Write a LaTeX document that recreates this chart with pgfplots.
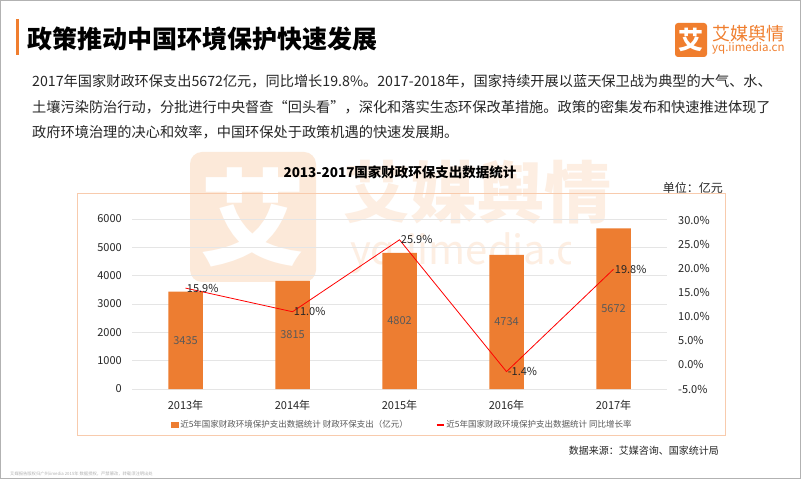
\documentclass[border=0pt]{standalone}
\usepackage{pgfplots}
\pgfplotsset{compat=1.18}
\usepackage{fontspec}
\setmainfont{Noto Sans CJK SC}
\definecolor{barorange}{HTML}{ED7D31}
\definecolor{logoorange}{HTML}{F07E2E}
\definecolor{wm}{HTML}{FCE9D9}
\definecolor{wmtext}{HTML}{FDEEE2}
\definecolor{framec}{HTML}{F8CBAD}
\definecolor{txtgray}{HTML}{595959}
\definecolor{bodytxt}{HTML}{262626}
\newcommand{\fs}[1]{\fontsize{#1}{#1}\selectfont}
\begin{document}
\begin{tikzpicture}[x=1pt,y=1pt]
\useasboundingbox (0,0) rectangle (802,479);
\fill[white] (0,0) rectangle (802,479);
\draw[gray!60, line width=1pt] (0.5,0.5) rectangle (800,478.5);
% header
\fill[logoorange] (16,460) rectangle (19,424);
\node[anchor=west, inner sep=0pt, font=\fs{25}\bfseries] at (27,440) {政策推动中国环境保护快速发展};
% logo
\fill[logoorange, rounded corners=3pt] (675,456) rectangle (707,422);
\node[inner sep=0pt, text=white, font=\fs{25}\bfseries] at (691,439) {艾};
\node[anchor=west, inner sep=0pt, text=logoorange, font=\fs{18}] at (712,445.5) {艾媒舆情};
\node[anchor=west, inner sep=0pt, text=logoorange, font=\fs{11.5}] at (712,431) {yq.iimedia.cn};
% body text
\node[anchor=west, inner sep=0pt, text=bodytxt, font=\fs{14.2}] at (32,398) {2017年国家财政环保支出5672亿元，同比增长19.8\%。2017-2018年，国家持续开展以蓝天保卫战为典型的大气、水、};
\node[anchor=west, inner sep=0pt, text=bodytxt, font=\fs{14.2}] at (32,372) {土壤污染防治行动，分批进行中央督查“回头看”，深化和落实生态环保改革措施。政策的密集发布和快速推进体现了};
\node[anchor=west, inner sep=0pt, text=bodytxt, font=\fs{14.2}] at (32,347) {政府环境治理的决心和效率，中国环保处于政策机遇的快速发展期。};
% watermark
\fill[wm, rounded corners=12pt] (190,327) rectangle (316,197);
\node[inner sep=0pt, text=white, font=\fs{105}\bfseries] at (253,262) {艾};
\node[anchor=west, inner sep=0pt, text=wmtext, font=\fs{67}\bfseries] at (343,287) {艾媒舆情};
\begin{scope}
\clip (340,260) rectangle (570,195);
\node[anchor=west, inner sep=0pt, text=wmtext, font=\fs{40}] at (350,226) {yq.iimedia.cn};
\end{scope}
% chart frame
\draw[framec, line width=0.8pt] (77,286) rectangle (725,44);
\node[inner sep=0pt, font=\fs{13.5}\bfseries] at (400,307) {2013-2017国家财政环保支出数据统计};
\node[anchor=east, inner sep=0pt, text=bodytxt, font=\fs{12}] at (723,291) {单位：亿元};
% bars
\begin{axis}[
  at={(132pt,90pt)}, anchor=south west, scale only axis,
  width=535pt, height=170pt,
  xmin=-0.5, xmax=4.5, ymin=0, ymax=6000,
  xtick={0,1,2,3,4},
  xticklabels={2013年,2014年,2015年,2016年,2017年},
  ytick={0,1000,2000,3000,4000,5000,6000},
  ymajorgrids, grid style={draw=gray!20, line width=0.6pt},
  axis line style={draw=none}, major tick style={draw=none},
  /pgf/number format/assume math mode=true,
  /pgf/number format/1000 sep={},
  tick label style={font=\fs{11}, text=bodytxt},
  yticklabel style={anchor=east, inner sep=0pt, xshift=-10pt},
  xticklabel style={anchor=center, inner sep=0pt, yshift=-16pt},
  clip=false,
]
\addplot[ybar, bar width=34.5pt, fill=barorange, draw=none] coordinates {(0,3435) (1,3815) (2,4802) (3,4734) (4,5672)};
\addplot[draw=none, nodes near coords, point meta=explicit symbolic,
  every node near coord/.style={anchor=center, inner sep=0pt, font=\fs{11}, text=txtgray}]
  coordinates {(0,1717.5)[3435] (1,1907.5)[3815] (2,2401)[4802] (3,2367)[4734] (4,2836)[5672]};
\end{axis}
% growth line
\begin{axis}[
  at={(132pt,90pt)}, anchor=south west, scale only axis,
  width=535pt, height=169pt,
  xmin=-0.5, xmax=4.5, ymin=-5, ymax=30,
  hide x axis,
  axis y line*=right,
  axis line style={draw=none}, major tick style={draw=none},
  ytick={-5,0,5,10,15,20,25,30},
  yticklabel={\pgfmathprintnumber[fixed, fixed zerofill, precision=1]{\tick}\%},
  /pgf/number format/assume math mode=true,
  yticklabel style={anchor=west, inner sep=0pt, xshift=11pt, font=\fs{11}, text=bodytxt},
  clip=false,
  legend style={at={(0.505,-0.212)}, anchor=center, draw=none, fill=none,
    font=\fs{8.5}, text=txtgray, inner sep=0pt,
    /tikz/every even column/.append style={column sep=26pt}},
  legend columns=2,
]
\addlegendimage{legend image code/.code={\fill[barorange] (0pt,-2.5pt) rectangle (7pt,2.5pt);}}
\addlegendentry{近5年国家财政环境保护支出数据统计 财政环保支出（亿元）}
\addlegendimage{legend image code/.code={\draw[red, line width=1.5pt] (0pt,0pt) -- (7pt,0pt);}}
\addlegendentry{近5年国家财政环境保护支出数据统计 同比增长率}
\addplot[forget plot, red, line width=0.8pt, mark=none, nodes near coords, point meta=explicit symbolic,
  every node near coord/.style={anchor=west, inner sep=1pt, font=\fs{11}, text=bodytxt}]
  coordinates {(0,15.9)[15.9\%] (1,11.0)[11.0\%] (2,25.9)[25.9\%] (3,-1.4)[-1.4\%] (4,19.8)[19.8\%]};
\end{axis}
% source and footer
\node[anchor=east, inner sep=0pt, text=bodytxt, font=\fs{10}] at (719,28) {数据来源：艾媒咨询、国家统计局};
\node[anchor=west, inner sep=0pt, text=gray!60, font=\fs{4.3}] at (10,5) {艾媒报告版权归广州iimedia 2015年 数据授权，严禁篡改，转载须注明出处};
\end{tikzpicture}
\end{document}
